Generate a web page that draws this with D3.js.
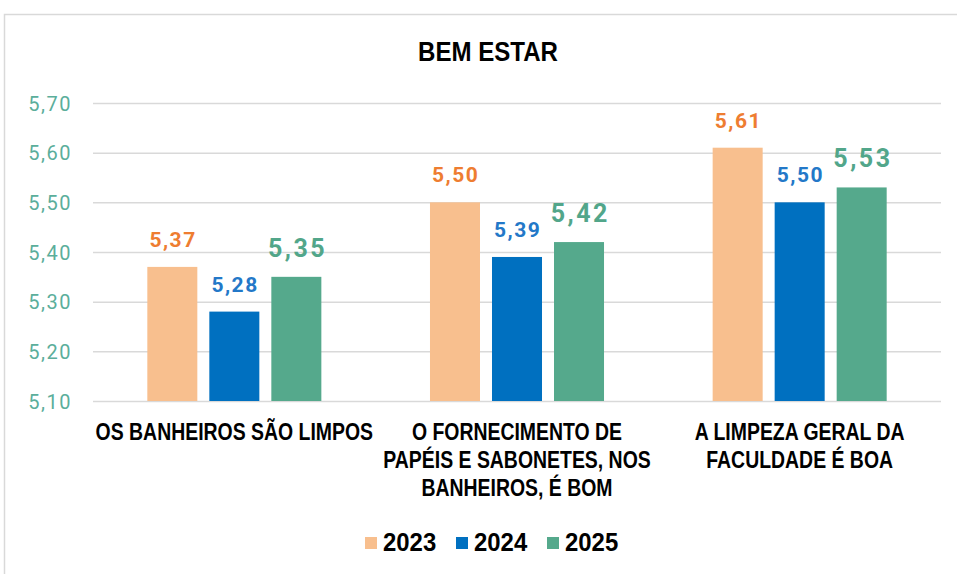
<!DOCTYPE html>
<html>
<head>
<meta charset="utf-8">
<script src="https://cdn.jsdelivr.net/npm/d3@7"></script>
<style>
  html, body { margin: 0; padding: 0; background: #fff; }
  svg { display: block; }
  .cond { font-family: "Liberation Sans", Arial, sans-serif; font-weight: bold; }
  .num { font-family: Roboto, "Liberation Sans", sans-serif; }
</style>
</head>
<body>
<svg id="chart" width="957" height="574"></svg>
<script>
// Survey averages, "Bem estar" block
const categories = [
  "OS BANHEIROS SÃO LIMPOS",
  "O FORNECIMENTO DE PAPÉIS E SABONETES, NOS BANHEIROS, É BOM",
  "A LIMPEZA GERAL DA FACULDADE É BOA"
];
const categoryLines = [
  ["OS BANHEIROS SÃO LIMPOS"],
  ["O FORNECIMENTO DE", "PAPÉIS E SABONETES, NOS", "BANHEIROS, É BOM"],
  ["A LIMPEZA GERAL DA", "FACULDADE É BOA"]
];
const years = ["2023", "2024", "2025"];
const values2023 = [5.37, 5.50, 5.61];
const values2024 = [5.28, 5.39, 5.50];
const values2025 = [5.35, 5.42, 5.53];
const yTicks = [5.10, 5.20, 5.30, 5.40, 5.50, 5.60, 5.70];

const series = [
  { year: "2023", values: values2023, bar: "#F8BF8E", text: "#EE7D31", size: 21, spacing: 1.5 },
  { year: "2024", values: values2024, bar: "#0070C0", text: "#2378C8", size: 21, spacing: 1.5 },
  { year: "2025", values: values2025, bar: "#55A98C", text: "#52A68A", size: 25, spacing: 2.5 }
];

const ptBR = d3.formatLocale({ decimal: ",", thousands: ".", grouping: [3], currency: ["R$", ""] });
const fmt = ptBR.format(".2f");

const svg = d3.select("#chart");

// outer frame
svg.append("rect")
  .attr("x", 4.5).attr("y", 14.5)
  .attr("width", 1000).attr("height", 600)
  .attr("fill", "none").attr("stroke", "#d9d9d9").attr("stroke-width", 1.5);

const plotLeft = 93, plotRight = 941, plotTop = 103, plotBottom = 401;

const y = d3.scaleLinear().domain([5.10, 5.70]).range([plotBottom, plotTop]);
const x = d3.scaleBand().domain(categories).range([plotLeft, plotRight]);
const xi = d3.scaleBand().domain(years).range([0, x.bandwidth()])
  .paddingInner(0.1935).paddingOuter(0.876);

// narrow bold text: a horizontally squeezed bold sans
function narrowText(parent, tx, ty, size, sx, str, anchor) {
  return parent.append("g")
    .attr("transform", `translate(${tx},${ty}) scale(${sx},1)`)
    .append("text")
    .attr("class", "cond")
    .attr("font-size", size)
    .attr("text-anchor", anchor || "middle")
    .attr("fill", "#000")
    .text(str);
}

// title
narrowText(svg, 488, 61, 28, 0.86, "BEM ESTAR");

// gridlines and value axis
const yAxis = d3.axisLeft(y).tickValues(yTicks).tickSize(-(plotRight - plotLeft)).tickFormat(fmt).tickPadding(21);
const gy = svg.append("g").attr("transform", `translate(${plotLeft},0)`).call(yAxis);
gy.select(".domain").remove();
gy.selectAll(".tick line").attr("stroke", "#d9d9d9").attr("stroke-width", 1.5);
gy.selectAll(".tick text")
  .attr("class", "num")
  .attr("font-size", 20)
  .attr("letter-spacing", 1.5)
  .attr("fill", "#5BAE9B")
  .attr("dy", "0.36em");

// bars
const groups = svg.append("g").selectAll("g")
  .data(categories)
  .join("g")
  .attr("transform", d => `translate(${x(d)},0)`);

series.forEach(s => {
  groups.append("rect")
    .attr("x", xi(s.year))
    .attr("width", xi.bandwidth())
    .attr("y", (d, i) => y(s.values[i]))
    .attr("height", (d, i) => y(5.10) - y(s.values[i]))
    .attr("fill", s.bar);

  groups.append("text")
    .attr("class", "num")
    .attr("x", xi(s.year) + xi.bandwidth() / 2 + s.spacing / 2)
    .attr("y", (d, i) => y(s.values[i]) - 20)
    .attr("text-anchor", "middle")
    .attr("font-size", s.size)
    .attr("font-weight", "bold")
    .attr("letter-spacing", s.spacing)
    .attr("fill", s.text)
    .text((d, i) => fmt(s.values[i]));
});

// category labels
groups.each(function (d, i) {
  const g = d3.select(this);
  categoryLines[i].forEach((line, k) => {
    narrowText(g, x.bandwidth() / 2, 440 + k * 28, 24, 0.81, line);
  });
});

// legend
const legendX = [365, 456, 547];
const legend = svg.append("g").selectAll("g")
  .data(series)
  .join("g")
  .attr("transform", (d, i) => `translate(${legendX[i]},537)`);
legend.append("rect").attr("width", 12).attr("height", 12).attr("fill", d => d.bar);
legend.each(function (d) {
  narrowText(d3.select(this), 18, 14, 26, 0.92, d.year, "start");
});
</script>
</body>
</html>
